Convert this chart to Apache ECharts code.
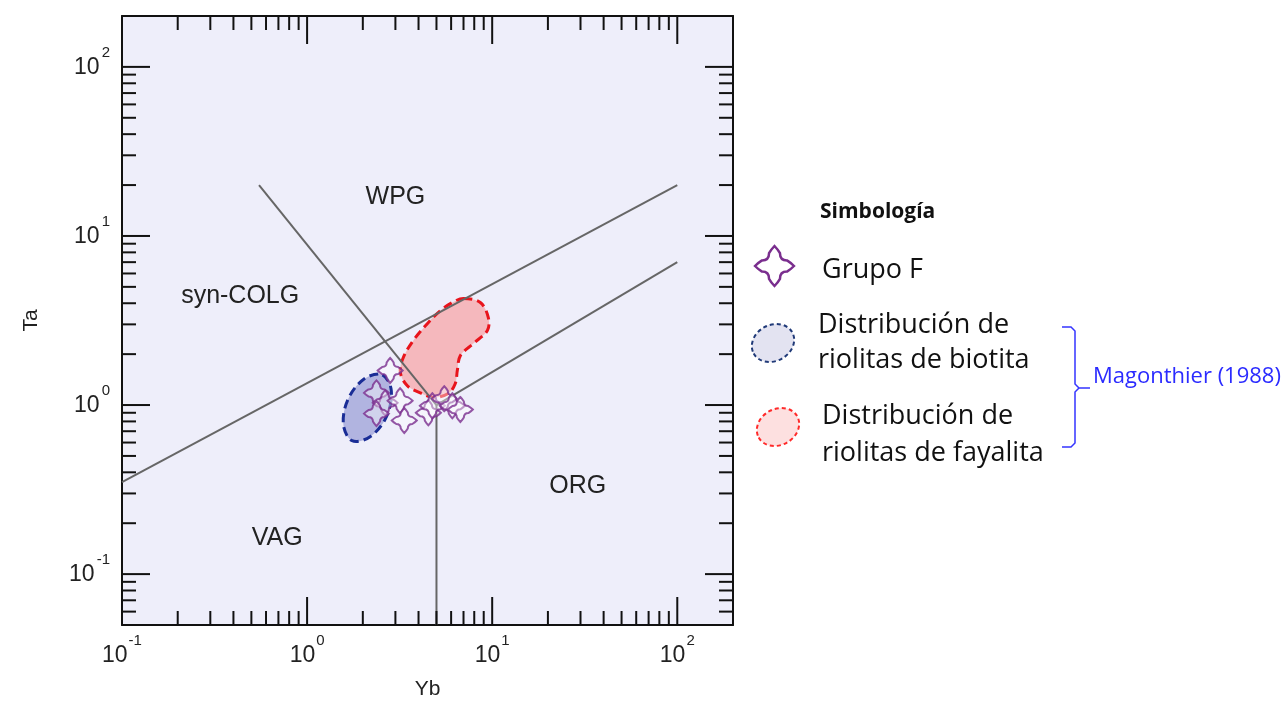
<!DOCTYPE html>
<html>
<head>
<meta charset="utf-8">
<script src="https://cdn.jsdelivr.net/npm/echarts@6/dist/echarts.min.js"></script>
<style>
  html, body { margin: 0; padding: 0; background: #ffffff; }
  #chart { width: 1286px; height: 704px; }
</style>
</head>
<body>
<div id="chart"></div>
<script>
// Ta vs Yb tectonic discrimination diagram for granitic rocks (Pearce et al., 1984)

// Axis ranges (ppm)
const xRange = [0.1, 200];
const yRange = [0.05, 200];

// Decade ticks and their exponents
const xMajorTicks = [0.1, 1, 10, 100];
const xTickExponents = ['-1', '0', '1', '2'];
const yMajorTicks = [0.1, 1, 10, 100];
const yTickExponents = ['-1', '0', '1', '2'];

// Intermediate log ticks
const xMinorTicks = [0.2, 0.3, 0.4, 0.5, 0.6, 0.7, 0.8, 0.9,
                     2, 3, 4, 5, 6, 7, 8, 9,
                     20, 30, 40, 50, 60, 70, 80, 90];
const yMinorTicks = [0.06, 0.07, 0.08, 0.09,
                     0.2, 0.3, 0.4, 0.5, 0.6, 0.7, 0.8, 0.9,
                     2, 3, 4, 5, 6, 7, 8, 9,
                     20, 30, 40, 50, 60, 70, 80, 90];

// Field boundaries [Yb, Ta]
const boundaryVagColg = [[0.1, 0.35], [100, 20]];
const boundaryColgWpg = [[0.55, 20], [5, 1]];
const boundaryVagOrg = [[5, 0.05], [5, 1]];
const boundaryWpgOrg = [[5, 1], [100, 7]];

// Field names and where they sit [Yb, Ta]
const fieldNames = ['WPG', 'syn-COLG', 'VAG', 'ORG'];
const fieldNameYb = [3.0, 0.435, 0.69, 29];
const fieldNameTa = [16.9, 4.4, 0.164, 0.333];

// Grupo F samples
const grupoFYb = [2.81, 2.37, 2.64, 2.37, 3.18, 3.35, 4.52, 4.75, 5.51, 6.09, 6.73];
const grupoFTa = [1.60, 1.18, 1.03, 0.89, 1.06, 0.81, 0.90, 0.99, 1.09, 0.99, 0.94];

// Magonthier (1988): biotite rhyolite field outline [Yb, Ta]
const biotitaField = [
  [2.55, 1.51], [2.85, 1.22], [2.68, 0.85], [2.19, 0.65],
  [1.75, 0.615], [1.57, 0.77], [1.67, 1.09], [2.04, 1.43]
];
// Magonthier (1988): fayalite rhyolite field outline [Yb, Ta]
const fayalitaField = [
  [6.98, 4.27], [8.63, 4.04], [9.53, 3.29], [9.42, 2.76], [7.91, 2.31],
  [6.73, 1.96], [6.48, 1.60], [6.32, 1.34], [5.79, 1.17], [4.81, 1.11],
  [4.09, 1.18], [3.48, 1.30], [3.19, 1.56], [3.31, 1.91], [3.75, 2.41],
  [4.46, 3.03], [5.25, 3.62], [6.09, 4.04]
];

const PURPLE = '#7a2e8e';
const TEXT_COLOR = '#222';
const AXIS_FONT = '"Liberation Sans"';
const LEGEND_FONT = '"Open Sans"';
const BASE_FONT = '23px ' + AXIS_FONT;
const EXP_FONT = '15px ' + AXIS_FONT;
// Four-armed cross with pointed tips used for the Grupo F samples
const QUATREFOIL = 'M36 18 Q42 8 50 0 Q58 8 64 18 Q64 36 82 36 Q92 42 100 50 Q92 58 82 64 Q64 64 64 82 Q58 92 50 100 Q42 92 36 82 Q36 64 18 64 Q8 58 0 50 Q8 42 18 36 Q36 36 36 18 Z';
const ELLIPSE_PATH = 'M0 50 A50 50 0 1 0 100 50 A50 50 0 1 0 0 50 Z';

const measureCtx = document.createElement('canvas').getContext('2d');
function textWidth(text, font) {
  measureCtx.font = font;
  return measureCtx.measureText(text).width;
}

const chart = echarts.init(document.getElementById('chart'), null, { renderer: 'canvas' });

const frameLine = { show: true, onZero: false, lineStyle: { color: '#111', width: 2 } };

// Tick marks drawn inward from each side of the frame
function tickSeries(values, side, len) {
  return {
    type: 'custom',
    coordinateSystem: 'cartesian2d',
    silent: true,
    z: 6,
    data: values.map(v => side === 'bottom' ? [v, yRange[0]]
                        : side === 'top' ? [v, yRange[1]]
                        : side === 'left' ? [xRange[0], v]
                        : [xRange[1], v]),
    renderItem: function (params, api) {
      const p = api.coord([api.value(0), api.value(1)]);
      let shape;
      if (side === 'bottom') shape = { x1: p[0], y1: p[1], x2: p[0], y2: p[1] - len };
      else if (side === 'top') shape = { x1: p[0], y1: p[1], x2: p[0], y2: p[1] + len };
      else if (side === 'left') shape = { x1: p[0], y1: p[1], x2: p[0] + len, y2: p[1] };
      else shape = { x1: p[0], y1: p[1], x2: p[0] - len, y2: p[1] };
      return { type: 'line', shape: shape, style: { stroke: '#111', lineWidth: 2 } };
    }
  };
}

// Power-of-ten tick labels ("10" with a raised exponent)
function powerLabelSeries(values, exps, side) {
  return {
    type: 'custom',
    coordinateSystem: 'cartesian2d',
    silent: true,
    z: 6,
    data: values.map(v => side === 'bottom' ? [v, yRange[0]] : [xRange[0], v]),
    renderItem: function (params, api) {
      const p = api.coord([api.value(0), api.value(1)]);
      const exp = exps[params.dataIndex];
      const w10 = textWidth('10', BASE_FONT);
      const we = textWidth(exp, EXP_FONT);
      let baseX, baseY, expX, expY;
      if (side === 'bottom') {
        baseX = p[0] - (w10 + 1 + we) / 2;
        baseY = p[1] + 31;
        expX = baseX + w10 + 1;
        expY = p[1] + 16;
      } else {
        expX = p[0] - 12 - we;
        expY = p[1] - 14;
        baseX = expX - 2 - w10;
        baseY = p[1] + 1;
      }
      return {
        type: 'group',
        children: [
          { type: 'text', x: baseX, y: baseY,
            style: { text: '10', font: BASE_FONT, fill: TEXT_COLOR, align: 'left', verticalAlign: 'middle' } },
          { type: 'text', x: expX, y: expY,
            style: { text: exp, font: EXP_FONT, fill: TEXT_COLOR, align: 'left', verticalAlign: 'middle' } }
        ]
      };
    }
  };
}

function fieldSeries(vertices, fill, stroke) {
  return {
    type: 'custom',
    coordinateSystem: 'cartesian2d',
    silent: true,
    z: 2,
    data: [vertices[0]],
    renderItem: function (params, api) {
      return {
        type: 'polygon',
        shape: { points: vertices.map(v => api.coord(v)), smooth: 0.35 },
        style: { fill: fill, stroke: stroke, lineWidth: 3, lineDash: [9, 5] }
      };
    }
  };
}

function boundarySeries(points) {
  return {
    type: 'line',
    data: points,
    symbol: 'none',
    silent: true,
    z: 3,
    lineStyle: { color: '#666', width: 2 }
  };
}

// Legend symbols and the reference bracket, in page pixels
const legendShapes = {
  type: 'custom',
  coordinateSystem: 'none',
  silent: true,
  z: 10,
  data: [0],
  renderItem: function () {
    return {
      type: 'group',
      children: [
        { type: 'path', shape: { pathData: QUATREFOIL, x: 755, y: 246, width: 39, height: 40, layout: 'cover' },
          style: { fill: '#ffffff', stroke: PURPLE, lineWidth: 2.5 } },
        { type: 'path', x: 773, y: 343, rotation: 0.5,
          shape: { pathData: ELLIPSE_PATH, x: -22, y: -18, width: 44, height: 36, layout: 'cover' },
          style: { fill: '#e3e3f1', stroke: '#203a78', lineWidth: 2, lineDash: [4, 3] } },
        { type: 'path', x: 778, y: 427, rotation: 0.5,
          shape: { pathData: ELLIPSE_PATH, x: -22, y: -18, width: 44, height: 36, layout: 'cover' },
          style: { fill: '#fde0e0', stroke: '#ff2a2a', lineWidth: 2, lineDash: [4, 3] } },
        { type: 'polyline', shape: { points: [[1062, 327], [1071, 327], [1075, 331], [1075, 384], [1079, 388], [1090, 388]] },
          style: { fill: null, stroke: '#3535ff', lineWidth: 1.5 } },
        { type: 'polyline', shape: { points: [[1079, 388], [1075, 392], [1075, 443], [1071, 447], [1062, 447]] },
          style: { fill: null, stroke: '#3535ff', lineWidth: 1.5 } }
      ]
    };
  }
};

const series = [
  fieldSeries(biotitaField, '#b1b4e0', '#1a2d96'),
  fieldSeries(fayalitaField, '#f5b8bd', '#e8141c'),
  boundarySeries(boundaryVagColg),
  boundarySeries(boundaryColgWpg),
  boundarySeries(boundaryVagOrg),
  boundarySeries(boundaryWpgOrg),
  {
    type: 'scatter',
    name: 'Grupo F',
    z: 4,
    symbol: 'path://' + QUATREFOIL,
    symbolSize: 25,
    itemStyle: { color: 'rgba(255,255,255,0.5)', borderColor: PURPLE, borderWidth: 2 },
    data: grupoFYb.map((x, i) => [x, grupoFTa[i]])
  },
  {
    type: 'custom',
    coordinateSystem: 'cartesian2d',
    silent: true,
    z: 5,
    data: fieldNames.map((n, i) => [fieldNameYb[i], fieldNameTa[i]]),
    renderItem: function (params, api) {
      const p = api.coord([api.value(0), api.value(1)]);
      return {
        type: 'text',
        x: p[0], y: p[1],
        style: {
          text: fieldNames[params.dataIndex],
          font: '25px ' + AXIS_FONT,
          fill: TEXT_COLOR,
          align: 'center',
          verticalAlign: 'middle'
        }
      };
    }
  },
  tickSeries(xMajorTicks, 'bottom', 28),
  tickSeries(xMajorTicks, 'top', 28),
  tickSeries(xMinorTicks, 'bottom', 14),
  tickSeries(xMinorTicks, 'top', 14),
  tickSeries(yMajorTicks, 'left', 28),
  tickSeries(yMajorTicks, 'right', 28),
  tickSeries(yMinorTicks, 'left', 14),
  tickSeries(yMinorTicks, 'right', 14),
  powerLabelSeries(xMajorTicks, xTickExponents, 'bottom'),
  powerLabelSeries(yMajorTicks, yTickExponents, 'left'),
  legendShapes
];

const legendText = (text, x, y) => ({
  type: 'text', x: x, y: y, silent: true,
  style: { text: text, font: '27px ' + LEGEND_FONT, fill: '#111', verticalAlign: 'middle' }
});

const graphic = [
  { type: 'text', x: 820, y: 212, silent: true,
    style: { text: 'Simbología', font: 'bold 21px ' + LEGEND_FONT, fill: '#111', verticalAlign: 'middle' } },
  legendText('Grupo F', 822, 270),
  legendText('Distribución de', 818, 325),
  legendText('riolitas de biotita', 818, 360),
  legendText('Distribución de', 822, 416),
  legendText('riolitas de fayalita', 822, 453),
  { type: 'text', x: 1093, y: 377, silent: true,
    style: { text: 'Magonthier (1988)', font: '22px ' + LEGEND_FONT, fill: '#2b2bff', verticalAlign: 'middle' } }
];

const nameStyle = { fontFamily: 'Liberation Sans', fontSize: 21, color: TEXT_COLOR };

chart.setOption({
  animation: false,
  backgroundColor: '#ffffff',
  grid: {
    left: 122, top: 16, width: 611, height: 609,
    outerBoundsMode: 'none', containLabel: false,
    show: true, backgroundColor: '#eeeefa', borderWidth: 0
  },
  xAxis: [
    {
      type: 'log', logBase: 10, min: xRange[0], max: xRange[1], position: 'bottom',
      axisLine: frameLine, axisTick: { show: false }, splitLine: { show: false }, axisLabel: { show: false },
      name: 'Yb', nameLocation: 'middle', nameGap: 54, nameTextStyle: nameStyle
    },
    {
      type: 'log', logBase: 10, min: xRange[0], max: xRange[1], position: 'top',
      axisLine: frameLine, axisTick: { show: false }, splitLine: { show: false }, axisLabel: { show: false }
    }
  ],
  yAxis: [
    {
      type: 'log', logBase: 10, min: yRange[0], max: yRange[1], position: 'left',
      axisLine: frameLine, axisTick: { show: false }, splitLine: { show: false }, axisLabel: { show: false },
      name: 'Ta', nameLocation: 'middle', nameGap: 80, nameTextStyle: nameStyle
    },
    {
      type: 'log', logBase: 10, min: yRange[0], max: yRange[1], position: 'right',
      axisLine: frameLine, axisTick: { show: false }, splitLine: { show: false }, axisLabel: { show: false }
    }
  ],
  series: series,
  graphic: graphic
});
</script>
</body>
</html>
